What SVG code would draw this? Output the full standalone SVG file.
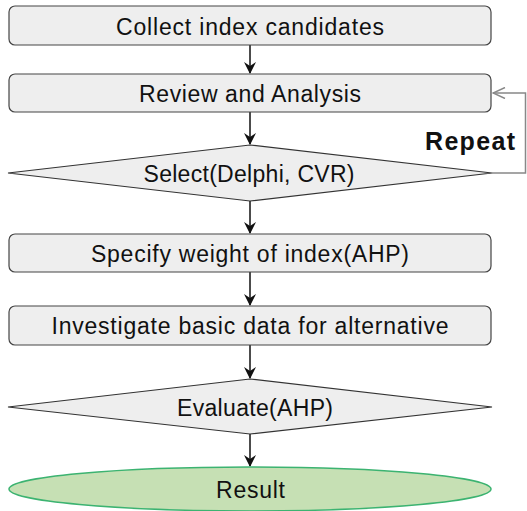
<svg xmlns="http://www.w3.org/2000/svg" width="527" height="511" viewBox="0 0 527 511">
<defs>
<style>
.box{fill:#eeeeee;stroke:#444;stroke-width:1.2}
.dia{fill:#eeeeee;stroke:#333;stroke-width:1.2}
.lbl{font-family:"Liberation Sans",Arial,sans-serif;font-size:23px;fill:#111;text-anchor:middle}
.edge{stroke:#111;stroke-width:1.5;fill:none}
.back{stroke:#888;stroke-width:1.5;fill:none}
</style>
<marker id="ah" viewBox="0 0 12 12" refX="11" refY="6" markerWidth="12" markerHeight="12" markerUnits="userSpaceOnUse" orient="auto">
<path d="M0,0 L12,6 L0,12 L4,6 z" fill="#111"/>
</marker>
<marker id="ahg" viewBox="0 0 14 12" refX="13" refY="6" markerWidth="14" markerHeight="12" markerUnits="userSpaceOnUse" orient="auto">
<path d="M1,0.5 L13,6 L1,11.5" fill="none" stroke="#888" stroke-width="1.5"/>
</marker>
</defs>
<rect width="527" height="511" fill="#ffffff"/>
<g id="connectors">
<line class="edge" x1="250" y1="45" x2="250" y2="73" marker-end="url(#ah)"/>
<line class="edge" x1="250" y1="112" x2="250" y2="144" marker-end="url(#ah)"/>
<line class="edge" x1="250" y1="201" x2="250" y2="233" marker-end="url(#ah)"/>
<line class="edge" x1="250" y1="272" x2="250" y2="305" marker-end="url(#ah)"/>
<line class="edge" x1="250" y1="345" x2="250" y2="378" marker-end="url(#ah)"/>
<line class="edge" x1="250" y1="434" x2="250" y2="466" marker-end="url(#ah)"/>
<polyline class="back" points="492,173 525.5,173 525.5,93 493,93" marker-end="url(#ahg)"/>
<text x="425" y="150" font-family="'Liberation Sans',Arial,sans-serif" font-size="25" font-weight="bold" fill="#111" textLength="90">Repeat</text>
</g>
<g id="n1">
<rect class="box" x="9" y="6" width="482" height="39" rx="6"/>
<text class="lbl" x="250" y="34.5" textLength="268">Collect index candidates</text>
</g>
<g id="n2">
<rect class="box" x="9" y="74" width="482" height="38" rx="6"/>
<text class="lbl" x="250" y="101.5" textLength="222">Review and Analysis</text>
</g>
<g id="n3">
<polygon class="dia" points="250,145 492,173 250,201 8,173"/>
<text class="lbl" x="249" y="181.5" textLength="211">Select(Delphi, CVR)</text>
</g>
<g id="n4">
<rect class="box" x="9" y="234" width="482" height="38" rx="6"/>
<text class="lbl" x="250" y="261.5" textLength="318">Specify weight of index(AHP)</text>
</g>
<g id="n5">
<rect class="box" x="9" y="306" width="482" height="39" rx="6"/>
<text class="lbl" x="250" y="334" textLength="397">Investigate basic data for alternative</text>
</g>
<g id="n6">
<polygon class="dia" points="250,379 492,407 250,434 8,407"/>
<text class="lbl" x="255" y="415.5" textLength="156">Evaluate(AHP)</text>
</g>
<g id="n7">
<ellipse cx="250" cy="489" rx="241" ry="22" fill="#c6e0b4" stroke="#3cb371" stroke-width="1.5"/>
<text class="lbl" x="250.5" y="497.5" textLength="69">Result</text>
</g>
</svg>
